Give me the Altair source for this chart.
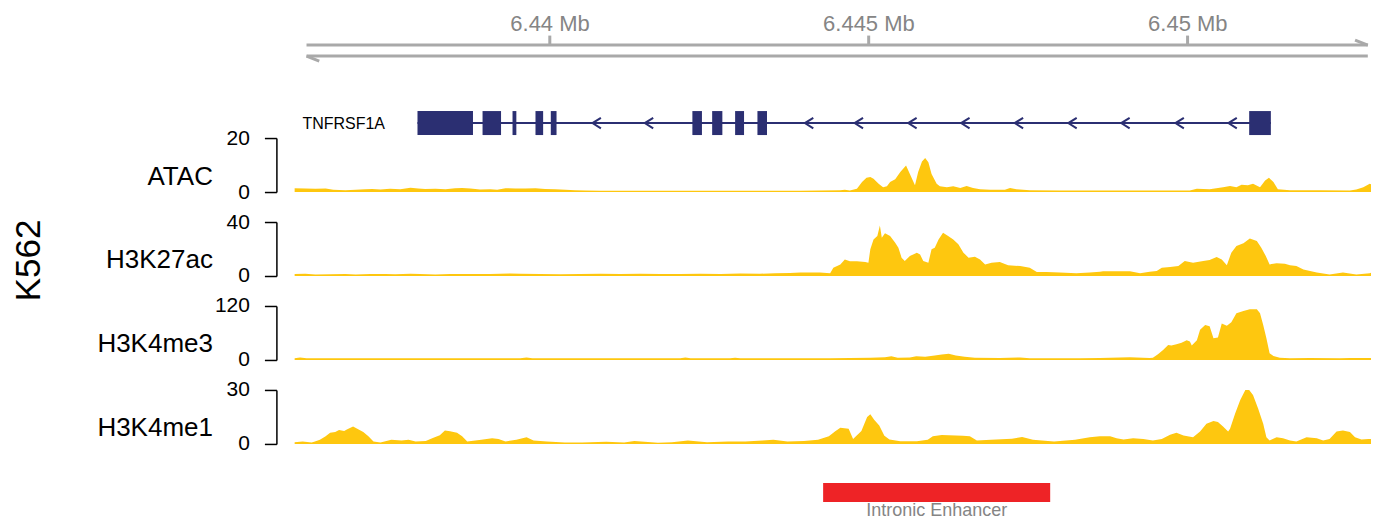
import altair as alt
import pandas as pd

# ---------------- data ----------------
REGION = [6436000, 6452880]
RULER = [6436190, 6452830]          # ends of the double strand ruler
RULER_HOOK = 200                    # bp length of the harpoon strokes
RULER_TICKS = [6440000, 6445000, 6450000]

GENE_NAME = "TNFRSF1A"
GENE_SPAN = [6437930, 6451310]
EXON_START = [6437930, 6438950, 6439420, 6439780, 6440020, 6442240, 6442550, 6442910, 6443260, 6450970]
EXON_END = [6438800, 6439240, 6439480, 6439900, 6440110, 6442390, 6442710, 6443050, 6443410, 6451310]
STRAND_ARROWS = [6440740, 6441560, 6444070, 6444850, 6445690, 6446520, 6447360, 6448200,
                 6449030, 6449880, 6450710]

ENHANCER = [6444290, 6447850]
ENHANCER_LABEL = "Intronic Enhancer"
CELL_LINE = "K562"

ATAC_POS = [6436000, 6436170, 6436330, 6436490, 6436610, 6436800, 6436960, 6437110, 6437220, 6437350,
            6437500, 6437660, 6437820, 6437940, 6438050, 6438210, 6438370, 6438520, 6438630, 6438760,
            6438910, 6439070, 6439180, 6439310, 6439460, 6439620, 6439780, 6439930, 6440090, 6440250,
            6440400, 6440560, 6440800, 6442360, 6443930, 6444240, 6444560, 6444630, 6444710, 6444820,
            6444900, 6444970, 6445030, 6445080, 6445160, 6445230, 6445290, 6445340, 6445420, 6445500,
            6445590, 6445650, 6445730, 6445780, 6445840, 6445890, 6445940, 6445990, 6446070, 6446120,
            6446230, 6446330, 6446440, 6446540, 6446640, 6446750, 6446910, 6447140, 6447220, 6447320,
            6447530, 6448000, 6448630, 6449410, 6450040, 6450150, 6450350, 6450560, 6450670, 6450770,
            6450850, 6450950, 6451030, 6451140, 6451220, 6451280, 6451350, 6451420, 6451610, 6452080,
            6452550, 6452650, 6452760, 6452860, 6452970, 6453000]
ATAC_VAL = [1.4, 1.3, 1.2, 1.3, 0.8, 0.7, 0.8, 1.0, 1.1, 0.9,
            1.2, 1.0, 1.6, 1.3, 1.1, 1.2, 1.0, 1.4, 1.5, 1.3,
            0.9, 1.0, 0.8, 1.4, 1.3, 1.3, 1.4, 1.1, 1.0, 0.8,
            0.7, 0.6, 0.5, 0.5, 0.5, 0.6, 0.7, 0.8, 0.6, 1.2,
            3.7, 5.3, 5.6, 4.9, 3.1, 1.8, 2.1, 3.7, 4.7, 7.4,
            9.8, 6.7, 2.5, 7.4, 11.3, 12.6, 11.0, 6.7, 3.1, 2.1,
            1.8, 2.1, 1.5, 2.2, 1.5, 1.0, 0.8, 0.8, 1.5, 1.0,
            0.7, 0.6, 0.6, 0.6, 0.6, 1.2, 1.0, 1.8, 2.2, 1.8,
            2.7, 2.5, 3.1, 1.8, 4.3, 5.3, 3.7, 1.0, 0.7, 0.7,
            0.6, 0.9, 1.8, 3.1, 2.1, 2.0]

H3K27AC_POS = [6436000, 6436170, 6436330, 6436560, 6436800, 6436960, 6437190, 6437430, 6437580, 6437820,
               6437970, 6438210, 6438440, 6438760, 6439070, 6439380, 6439540, 6439850, 6440170, 6440480,
               6440800, 6441110, 6441420, 6441740, 6442050, 6442360, 6442680, 6442990, 6443300, 6443540,
               6443770, 6443930, 6444240, 6444400, 6444450, 6444560, 6444630, 6444710, 6444820, 6444950,
               6445000, 6445030, 6445080, 6445140, 6445180, 6445210, 6445260, 6445340, 6445420, 6445470,
               6445520, 6445570, 6445650, 6445760, 6445810, 6445860, 6445940, 6445990, 6446040, 6446100,
               6446170, 6446250, 6446330, 6446410, 6446490, 6446570, 6446670, 6446750, 6446830, 6446930,
               6447060, 6447190, 6447380, 6447530, 6447640, 6447790, 6448000, 6448260, 6448470, 6448630,
               6448680, 6449100, 6449260, 6449410, 6449520, 6449600, 6449730, 6449860, 6449960, 6450090,
               6450250, 6450350, 6450460, 6450540, 6450620, 6450690, 6450770, 6450880, 6450980, 6451090,
               6451160, 6451230, 6451290, 6451400, 6451530, 6451610, 6451710, 6451820, 6452030, 6452230,
               6452440, 6452650, 6452860, 6452990]
H3K27AC_VAL = [1.4, 1.6, 1.2, 1.3, 1.4, 1.2, 1.5, 1.4, 1.3, 1.7,
               1.4, 1.2, 1.4, 1.5, 1.4, 1.9, 1.6, 1.4, 1.3, 1.4,
               1.6, 1.4, 1.7, 1.5, 1.4, 1.6, 1.5, 1.8, 1.7, 2.0,
               2.3, 2.5, 2.5, 2.0, 6.2, 8.6, 12.3, 11.0, 11.0, 10.4,
               9.9, 19.8, 27.0, 29.6, 37.5, 28.4, 31.6, 29.6, 24.7, 21.0,
               13.6, 11.1, 14.8, 17.3, 16.0, 11.1, 9.9, 19.8, 21.0, 27.0,
               32.0, 29.6, 27.0, 23.5, 17.3, 13.6, 14.3, 12.3, 8.6, 9.9,
               10.4, 7.9, 7.4, 6.2, 3.0, 3.0, 2.5, 2.0, 2.5, 3.2,
               3.5, 3.5, 2.0, 3.2, 3.7, 6.2, 6.7, 7.4, 11.1, 9.9,
               11.1, 11.9, 14.1, 12.3, 7.9, 17.3, 22.2, 24.2, 27.7, 25.9,
               21.0, 14.8, 8.6, 9.4, 9.1, 7.9, 7.4, 4.9, 2.5, 1.2,
               2.5, 1.2, 2.0, 4.9]

H3K4ME3_POS = [6436000, 6436090, 6436190, 6439540, 6439640, 6439730, 6442050, 6442130, 6442210, 6442830,
               6442910, 6442990, 6444400, 6444710, 6445030, 6445260, 6445360, 6445460, 6445650, 6445750,
               6445890, 6446040, 6446150, 6446260, 6446370, 6446510, 6446670, 6447060, 6447380, 6447530,
               6448320, 6448630, 6449100, 6449410, 6449460, 6449540, 6449620, 6449700, 6449750, 6449830,
               6449910, 6449990, 6450040, 6450070, 6450150, 6450200, 6450280, 6450350, 6450410, 6450480,
               6450540, 6450620, 6450690, 6450770, 6450880, 6450980, 6451090, 6451140, 6451190, 6451240,
               6451290, 6451350, 6451450, 6451610, 6451920, 6452390, 6452550, 6452780, 6453000]
H3K4ME3_VAL = [4, 5.5, 4, 4, 5.5, 4, 4, 5.5, 4, 4,
               5, 4, 4, 4.5, 5, 6, 8, 5, 5.5, 8,
               7, 10, 12, 14, 10, 7, 5, 4.5, 5.5, 4,
               4, 4.5, 5.9, 4.5, 5.2, 12.6, 22, 33, 32, 35,
               38.5, 44, 41, 32, 44, 67, 78, 75, 48, 50,
               81, 76, 84, 104, 109, 113, 113, 104, 78, 48,
               15, 9, 5.2, 4, 4.5, 4, 4.5, 4.5, 4]

H3K4ME1_POS = [6436000, 6436130, 6436270, 6436310, 6436400, 6436490, 6436560, 6436640, 6436700, 6436780,
               6436830, 6436920, 6437000, 6437080, 6437160, 6437240, 6437350, 6437520, 6437680, 6437790,
               6437900, 6438060, 6438170, 6438280, 6438360, 6438440, 6438550, 6438630, 6438710, 6438930,
               6439100, 6439200, 6439310, 6439480, 6439640, 6439750, 6439960, 6440240, 6440510, 6440890,
               6441170, 6441330, 6441490, 6441700, 6441920, 6442170, 6442470, 6442800, 6443070, 6443340,
               6443510, 6443730, 6443990, 6444210, 6444380, 6444480, 6444560, 6444690, 6444760, 6444890,
               6444980, 6445030, 6445090, 6445170, 6445250, 6445330, 6445500, 6445760, 6445930, 6446010,
               6446150, 6446480, 6446590, 6446700, 6446920, 6447250, 6447410, 6447580, 6447910, 6448240,
               6448470, 6448630, 6448790, 6448890, 6449000, 6449150, 6449310, 6449460, 6449600, 6449730,
               6449830, 6449940, 6450090, 6450200, 6450300, 6450410, 6450480, 6450560, 6450640, 6450670,
               6450750, 6450830, 6450910, 6450950, 6451030, 6451110, 6451190, 6451240, 6451290, 6451400,
               6451500, 6451610, 6451710, 6451870, 6452030, 6452130, 6452230, 6452340, 6452440, 6452550,
               6452630, 6452730, 6452840, 6453000]
H3K4ME1_VAL = [1.0, 1.35, 0.8, 1.2, 2.3, 4.3, 6.2, 6.6, 7.7, 7.2,
               8.1, 9.7, 8.1, 6.6, 4.3, 1.35, 0.8, 2.3, 1.9, 2.3,
               1.35, 1.7, 3.3, 4.8, 7.5, 7.1, 6.2, 4.3, 1.35, 2.3,
               3.1, 2.7, 1.35, 2.3, 3.7, 1.9, 1.35, 0.8, 0.8, 1.2,
               0.8, 1.7, 1.2, 0.6, 1.0, 1.9, 1.0, 1.35, 1.35, 1.9,
               2.3, 1.35, 1.7, 2.3, 4.3, 7.1, 9.0, 8.5, 2.7, 7.2,
               15.0, 16.5, 13.4, 10.3, 4.5, 2.5, 1.5, 1.5, 2.3, 4.3,
               4.9, 4.6, 4.3, 1.9, 2.3, 2.9, 3.9, 2.3, 1.35, 2.3,
               3.75, 4.3, 4.3, 3.2, 2.4, 3.2, 2.8, 1.9, 2.8, 5.1,
               6.2, 4.7, 3.75, 6.9, 11.25, 12.75, 12.2, 9.75, 6.9, 8.4,
               16.9, 24.4, 30.0, 30.9, 27.2, 19.7, 11.25, 3.75, 1.9, 3.75,
               3.2, 1.9, 1.3, 3.75, 3.2, 1.9, 2.8, 6.9, 7.5, 6.6,
               3.75, 2.4, 2.8, 2.4]

TRACK_NAMES = ["ATAC", "H3K27ac", "H3K4me3", "H3K4me1"]
TRACK_MAX = [20, 40, 120, 30]
TRACK_POS = [ATAC_POS, H3K27AC_POS, H3K4ME3_POS, H3K4ME1_POS]
TRACK_VAL = [ATAC_VAL, H3K27AC_VAL, H3K4ME3_VAL, H3K4ME1_VAL]

# ---------------- style ----------------
FONT = "Liberation Sans"
YELLOW = "#FEC70F"
NAVY = "#2B2F72"
GREY = "#A9A9A9"
GREY_TXT = "#858585"
RED = "#EE2326"
W = 1077
TRACK_H = 54

xs = alt.Scale(domain=REGION, nice=False, zero=False)


def spacer(h):
    return alt.Chart(pd.DataFrame({"a": [0]})).mark_point(opacity=0).encode(
        x=alt.value(0), y=alt.value(0)).properties(width=W, height=h)


# ---------------- ruler ----------------
ruler_df = pd.DataFrame({"start": [RULER[0]], "end": [RULER[1]],
                         "hook_r": [RULER[1] - RULER_HOOK], "hook_l": [RULER[0] + RULER_HOOK]})
ruler_axis = alt.Axis(orient="top", values=RULER_TICKS, domain=False, grid=False,
                      tickColor=GREY, tickWidth=3, tickSize=10, labelColor=GREY_TXT,
                      labelFontSize=22, labelFont=FONT, labelPadding=0, labelFlush=False,
                      labelExpr="format(datum.value / 1000000, '.3~f') + ' Mb'", title=None)
top_line = alt.Chart(ruler_df).mark_rule(color=GREY, strokeWidth=3).encode(
    x=alt.X("start:Q", scale=xs, axis=ruler_axis), x2="end:Q", y=alt.value(0))
bot_line = alt.Chart(ruler_df).mark_rule(color=GREY, strokeWidth=3).encode(
    x=alt.X("start:Q", scale=xs), x2="end:Q", y=alt.value(11))
hook_r = alt.Chart(ruler_df).mark_rule(color=GREY, strokeWidth=3).encode(
    x=alt.X("end:Q", scale=xs), x2="hook_r:Q", y=alt.value(0), y2=alt.value(-5))
hook_l = alt.Chart(ruler_df).mark_rule(color=GREY, strokeWidth=3).encode(
    x=alt.X("start:Q", scale=xs), x2="hook_l:Q", y=alt.value(11), y2=alt.value(16))
ruler = alt.layer(top_line, bot_line, hook_r, hook_l).properties(width=W, height=10)

# ---------------- gene ----------------
gene_df = pd.DataFrame({"start": [GENE_SPAN[0]], "end": [GENE_SPAN[1]], "name": [GENE_NAME]})
exon_df = pd.DataFrame({"start": EXON_START, "end": EXON_END})
arrow_df = pd.DataFrame({"pos": STRAND_ARROWS})
gene_line = alt.Chart(gene_df).mark_rule(color=NAVY, strokeWidth=2).encode(
    x=alt.X("start:Q", scale=xs, axis=None), x2="end:Q", y=alt.value(12))
exons = alt.Chart(exon_df).mark_rect(color=NAVY).encode(
    x=alt.X("start:Q", scale=xs, axis=None), x2="end:Q", y=alt.value(0), y2=alt.value(24))
arrows = alt.Chart(arrow_df).mark_point(shape="M0.8,-1L-0.8,0L0.8,1", filled=False, size=110,
                                         strokeWidth=2, color=NAVY, opacity=1).encode(
    x=alt.X("pos:Q", scale=xs, axis=None), y=alt.value(12))
gene_label = alt.Chart(gene_df).mark_text(align="left", baseline="middle", font=FONT,
                                          fontSize=16, color="black").encode(
    text="name:N", x=alt.value(8), y=alt.value(13))
gene = alt.layer(gene_line, exons, arrows, gene_label).properties(width=W, height=24)

# ---------------- signal tracks ----------------
tracks = []
for i, (name, vmax, pos, val) in enumerate(zip(TRACK_NAMES, TRACK_MAX, TRACK_POS, TRACK_VAL)):
    df = pd.DataFrame({"pos": pos, "val": val})
    yaxis = alt.Axis(values=[0, vmax], orient="left", offset=18, grid=False,
                     domainColor="black", domainWidth=1.5, tickColor="black", tickWidth=1.5,
                     tickSize=12, labelFontSize=21, labelFont=FONT, labelColor="black",
                     labelPadding=15, labelFlush=False, title=name, titleAngle=0,
                     titleAlign="right", titleBaseline="middle", titleFont=FONT,
                     titleFontSize=26, titleFontWeight="normal", titleColor="black",
                     titleX=-64, titleY=38)
    area = alt.Chart(df).mark_area(color=YELLOW, interpolate="linear", clip=True).encode(
        x=alt.X("pos:Q", scale=xs, axis=None),
        y=alt.Y("val:Q", scale=alt.Scale(domain=[0, vmax], nice=False, zero=True), axis=yaxis))
    layers = [area]
    if i == 1:
        k_df = pd.DataFrame({"label": [CELL_LINE]})
        layers.append(alt.Chart(k_df).mark_text(angle=270, align="center", baseline="middle",
                                                font=FONT, fontSize=35, color="black").encode(
            text="label:N", x=alt.value(-265), y=alt.value(38.5)))
    tracks.append(alt.layer(*layers).properties(width=W, height=TRACK_H))

# ---------------- enhancer ----------------
enh_df = pd.DataFrame({"start": [ENHANCER[0]], "end": [ENHANCER[1]], "label": [ENHANCER_LABEL]})
enh_bar = alt.Chart(enh_df).mark_rect(color=RED).encode(
    x=alt.X("start:Q", scale=xs, axis=None), x2="end:Q", y=alt.value(0), y2=alt.value(19))
enh_txt = alt.Chart(enh_df).transform_calculate(mid="(datum.start + datum.end) / 2").mark_text(
    align="center", baseline="middle", font=FONT, fontSize=18, color=GREY_TXT).encode(
    x=alt.X("mid:Q", scale=xs, axis=None), text="label:N", y=alt.value(28))
enhancer = alt.layer(enh_bar, enh_txt).properties(width=W, height=19)

# ---------------- layout ----------------
panels = [ruler, spacer(55.5), gene, spacer(3)]
for j, t in enumerate(tracks):
    panels.append(t)
    panels.append(spacer(29.7 if j < 3 else 39))
panels.append(enhancer)

chart = alt.vconcat(*panels, spacing=0, bounds="flush").properties(
    padding={"left": 4.5, "top": 4, "right": 0, "bottom": 0}
).configure(font=FONT, view=alt.ViewConfig(strokeWidth=0, stroke="transparent"))

chart.save("out.html", embed_options={"renderer": "svg", "actions": False})
